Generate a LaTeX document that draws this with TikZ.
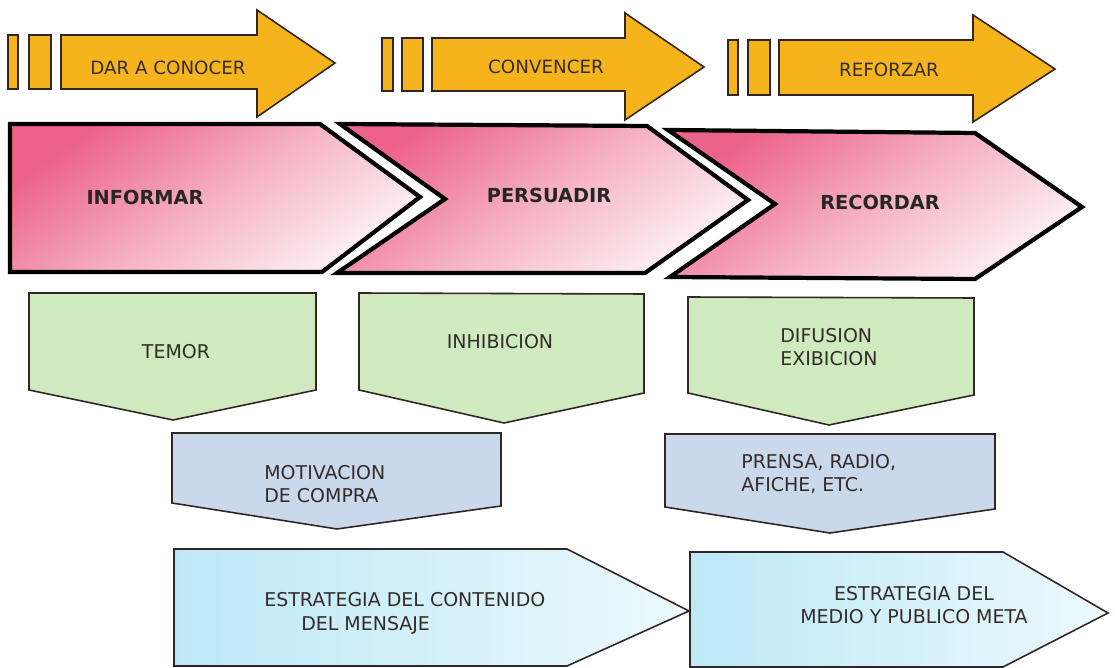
\documentclass[tikz,border=0pt]{standalone}
\usepackage{fontspec}
\setmainfont{DejaVu Sans}
\definecolor{ygold}{RGB}{246,180,28}
\definecolor{edge}{RGB}{50,38,36}
\definecolor{pinkD}{RGB}{236,98,136}
\definecolor{pinkL}{RGB}{253,242,246}
\definecolor{greenF}{RGB}{206,234,190}
\definecolor{blueF}{RGB}{202,216,236}
\definecolor{cyanD}{RGB}{188,232,246}
\definecolor{cyanL}{RGB}{236,249,253}
\definecolor{txt}{RGB}{52,44,42}
\begin{document}
\begin{tikzpicture}[x=0.02cm,y=-0.02cm,
  yshape/.style={fill=ygold, draw=edge, line width=0.9pt, line join=miter},
  chev/.style={draw=black, line width=2.4pt, line join=miter, top color=pinkD, bottom color=pinkL, middle color=pinkD!45!pinkL, shading angle=35},
  gbox/.style={fill=greenF, draw=edge, line width=0.9pt, line join=miter},
  bbox/.style={fill=blueF, draw=edge, line width=0.9pt, line join=miter},
  cbox/.style={draw=edge, line width=0.9pt, line join=miter, left color=cyanD, right color=cyanL},
  ytxt/.style={text=txt, font=\fontsize{10.4}{12}\selectfont, inner sep=0pt},
  ptxt/.style={text=black!85, font=\fontsize{11}{13}\selectfont\bfseries, inner sep=0pt},
  btxt/.style={text=txt, font=\fontsize{10.8}{13.5}\selectfont, inner sep=0pt}
]
\useasboundingbox (0,0) rectangle (1115,668);
\fill[white] (0,0) rectangle (1115,668);

% ---- top yellow arrows ----
\draw[yshape] (8,35) rectangle (18,89);
\draw[yshape] (29,35) rectangle (51,89);
\draw[yshape] (61,35) -- (257,35) -- (257,10) -- (335,63) -- (257,117) -- (257,89) -- (61,89) -- cycle;
\node[ytxt] (dar) at (168,68) {DAR A CONOCER};

\draw[yshape] (382,38) rectangle (393,91);
\draw[yshape] (402,38) rectangle (423,91);
\draw[yshape] (432,38) -- (625,38) -- (625,13) -- (704,67) -- (625,120) -- (625,91) -- (432,91) -- cycle;
\node[ytxt] (conv) at (546,67) {CONVENCER};

\draw[yshape] (728,40) rectangle (738,95);
\draw[yshape] (748,40) rectangle (770,95);
\draw[yshape] (779,40) -- (973,40) -- (973,15) -- (1055,69) -- (973,122) -- (973,95) -- (779,95) -- cycle;
\node[ytxt] (refo) at (889,70) {REFORZAR};

% ---- pink chevrons ----
\path[chev] (10,124) -- (320,124) -- (420,197) -- (322,272) -- (10,272) -- cycle;
\node[ptxt] (inf) at (145,197) {INFORMAR};
\path[chev] (340,124) -- (647,126) -- (748,200) -- (645,273) -- (337,273) -- (445,199) -- cycle;
\node[ptxt] (per) at (549,195) {PERSUADIR};
\path[chev] (668,130) -- (975,133) -- (1082,207) -- (975,279) -- (670,277) -- (775,204) -- cycle;
\node[ptxt] (rec) at (880,202) {RECORDAR};

% ---- green boxes ----
\draw[gbox] (29,293) -- (316,293) -- (316,390) -- (173,420) -- (29,390) -- cycle;
\node[btxt] (tem) at (176,352) {TEMOR};
\draw[gbox] (359,293) -- (644,294) -- (644,393) -- (504,423) -- (359,390) -- cycle;
\node[btxt] (inh) at (500,342) {INHIBICION};
\draw[gbox] (688,297) -- (974,298) -- (974,395) -- (829,425) -- (688,393) -- cycle;
\node[btxt, anchor=west, align=left] (dif) at (780,347) {DIFUSION\\EXIBICION};

% ---- blue boxes ----
\draw[bbox] (172,433) -- (501,433) -- (501,506) -- (337,529) -- (172,503) -- cycle;
\node[btxt, anchor=west, align=left] (mot) at (264,484) {MOTIVACION\\DE COMPRA};
\draw[bbox] (665,434) -- (995,434) -- (995,509) -- (830,533) -- (665,507) -- cycle;
\node[btxt, anchor=west, align=left] (pre) at (741,474) {PRENSA, RADIO,\\AFICHE, ETC.};

% ---- strategy arrows ----
\draw[cbox] (174,549) -- (567,549) -- (689,611) -- (567,666) -- (174,666) -- cycle;
\node[btxt, anchor=west, align=left] (estc) at (264,613) {ESTRATEGIA DEL CONTENIDO\\\hspace*{21pt}DEL MENSAJE};
\draw[cbox] (690,552) -- (1003,552) -- (1108,613) -- (1003,667) -- (690,667) -- cycle;
\node[btxt, align=center] (estm) at (914,605) {ESTRATEGIA DEL\\MEDIO Y PUBLICO META};
\end{tikzpicture}
\end{document}
